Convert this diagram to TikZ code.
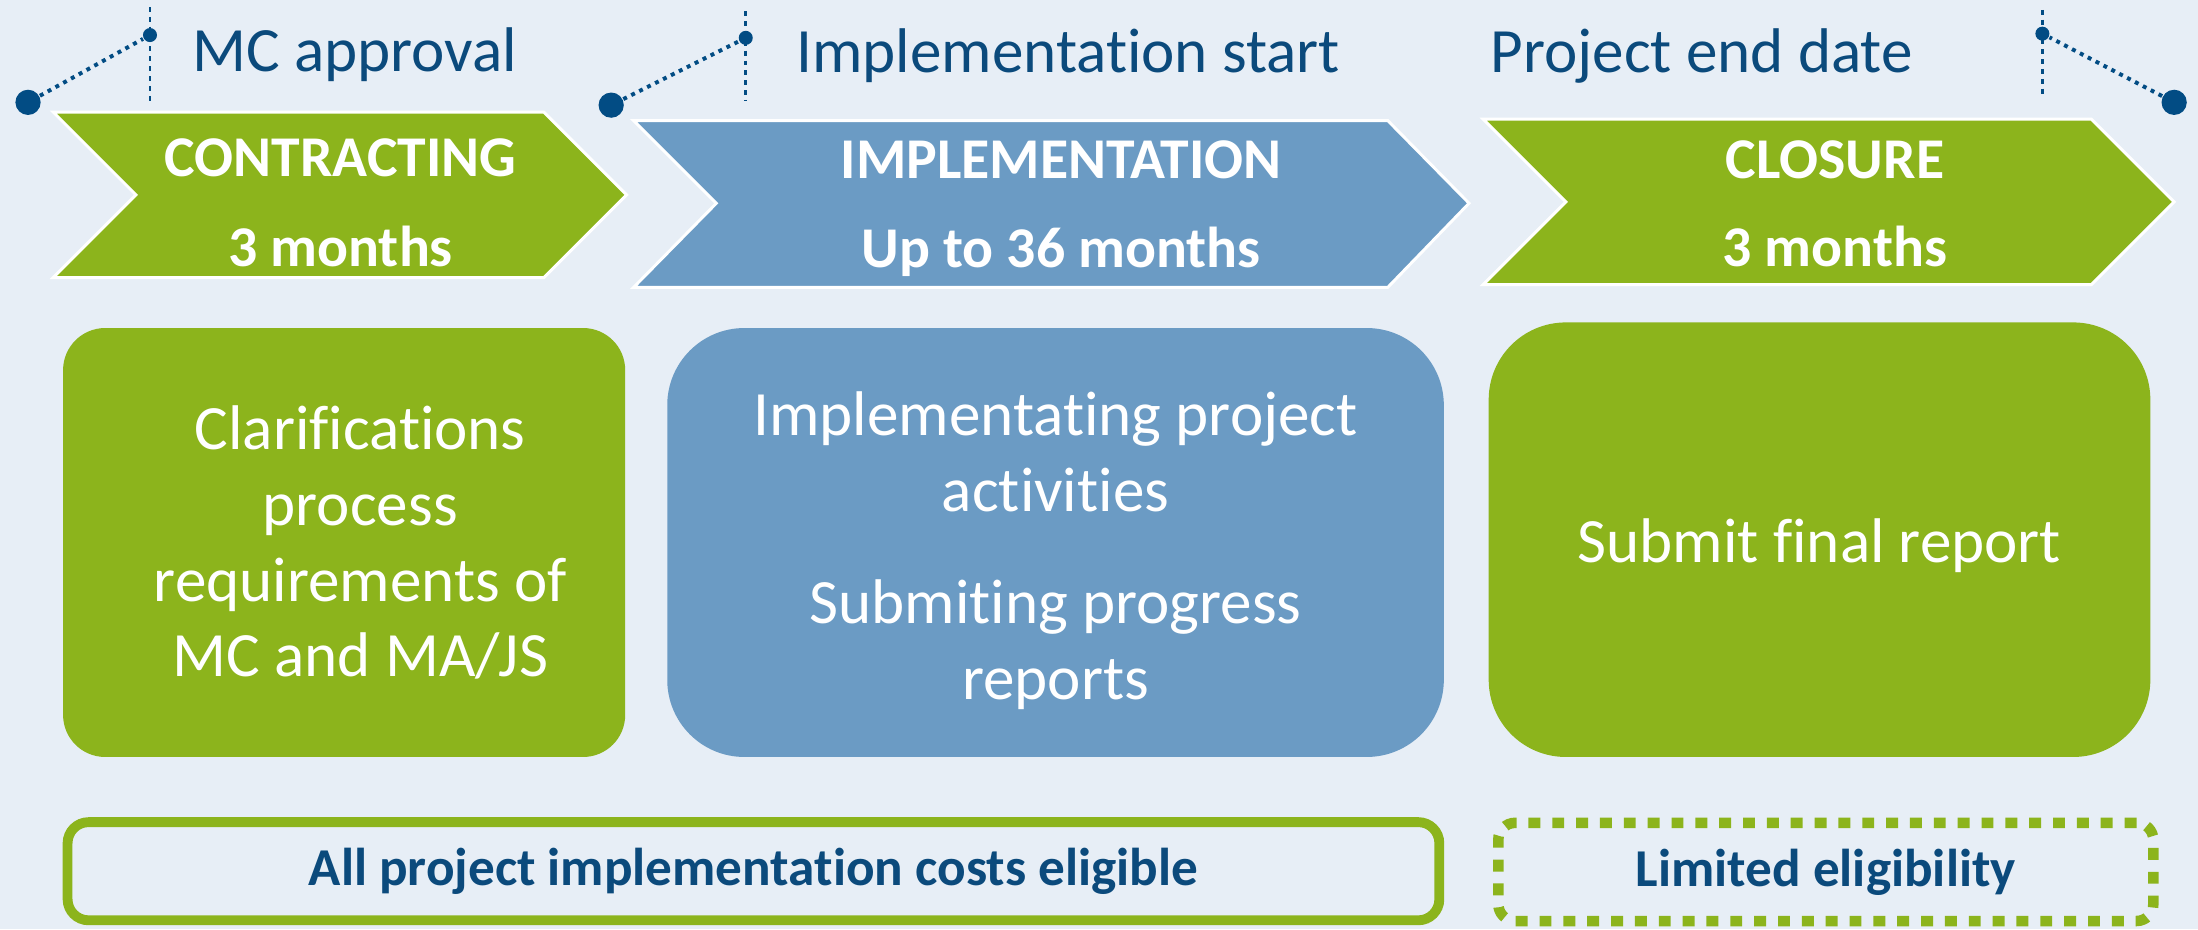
\documentclass[tikz,border=0pt]{standalone}
\usepackage{fontspec}
\setmainfont{Carlito}[Ligatures=NoCommon]
\usetikzlibrary{positioning}
\definecolor{bgblue}{HTML}{E7EEF6}
\definecolor{phgreen}{HTML}{8CB41C}
\definecolor{phblue}{HTML}{6B9BC4}
\definecolor{navy}{HTML}{0B4A7C}
\definecolor{dotblue}{HTML}{024C84}

\begin{document}
\begin{tikzpicture}[x=0.01cm, y=-0.01cm,
    bigdot/.style={circle, fill=dotblue, inner sep=0pt, minimum size=0.18cm},
    smalldot/.style={circle, fill=dotblue, inner sep=0pt, minimum size=0.1cm},
    leader/.style={dotblue, densely dotted, line width=0.8pt},
    pole/.style={dotblue, dash pattern=on 1pt off 1pt, line width=0.6pt},
    milestone/.style={anchor=base, text=navy, font=\fontsize{12.8}{15.4}\selectfont},
    phase/.style={anchor=base, text=white, font=\bfseries\fontsize{11.7}{14}\selectfont},
    chevron/.style={draw=white, line width=0.6pt},
    task/.style={align=center, text=white, font=\fontsize{12.8}{15.4}\selectfont},
    costs/.style={text=navy, inner sep=0pt, font=\bfseries\fontsize{10.8}{13}\selectfont}]
    % background
    \fill[bgblue] (0,0) rectangle (1568,663);
    \useasboundingbox (0,0) rectangle (1568,663);

    % milestones
    \node[milestone] (mcappr) at (253,51) {MC approval};
    \node[milestone] (implstart) at (762,52) {Implementation start};
    \node[milestone] (projend) at (1214,52) {Project end date};

    \node[bigdot] (mcbig) at (20,73) {};
    \node[smalldot] (mcsmall) at (107,25) {};
    \coordinate (mctop) at (107,5);
    \coordinate (mcbot) at (107,72);
    \draw[leader] (mcbig) -- (mcsmall);
    \draw[pole] (mctop) -- (mcbot);

    \node[bigdot] (isbig) at (436,75) {};
    \node[smalldot] (issmall) at (532,27) {};
    \coordinate (istop) at (532,8);
    \coordinate (isbot) at (532,72);
    \draw[leader] (isbig) -- (issmall);
    \draw[pole] (istop) -- (isbot);

    \node[bigdot] (pebig) at (1551,73) {};
    \node[smalldot] (pesmall) at (1457,24) {};
    \coordinate (petop) at (1457,7);
    \coordinate (pebot) at (1457,70);
    \draw[leader] (pebig) -- (pesmall);
    \draw[pole] (petop) -- (pebot);

    % phases
    \fill[phgreen, chevron] (38,80) -- (388,80) -- (447,139) -- (388,198) -- (38,198) -- (97,139) -- cycle;
    \fill[phblue, chevron] (452,86) -- (990,86) -- (1048,145) -- (990,205) -- (452,205) -- (511,145) -- cycle;
    \fill[phgreen, chevron] (1058,85) -- (1492,85) -- (1551,144) -- (1492,203) -- (1058,203) -- (1117,144) -- cycle;

    \node[phase] (contr) at (243,126) {CONTRACTING};
    \node[phase] (contrdur) at (243,190) {3 months};
    \node[phase] (impl) at (757,127) {IMPLEMENTATION};
    \node[phase] (impldur) at (757,191) {Up to 36 months};
    \node[phase] (clos) at (1309,127) {CLOSURE};
    \node[phase] (closdur) at (1309,190) {3 months};

    % tasks
    \fill[phgreen, rounded corners=0.3cm] (45,234) rectangle (446,540);
    \fill[phblue, rounded corners=0.55cm] (476,234) rectangle (1030,540);
    \fill[phgreen, rounded corners=0.55cm] (1062,230) rectangle (1534,540);

    \node[task] (contrtask) at (257,387) {Clarifications\\process\\requirements of\\MC and MA/JS};
    \node[task] (impltask) at (753,393) {Implementating project\\activities\\[0.26cm]Submiting progress\\reports};
    \node[task] (clostask) at (1298,389) {Submit final report};

    % eligibility
    \node[costs, draw=phgreen, line width=0.07cm, rounded corners=0.15cm,
        minimum width=9.78cm, minimum height=0.70cm] (allcosts) at (537.5,621.5)
        {All project implementation costs eligible};
    \node[costs, draw=phgreen, line width=0.075cm, rounded corners=0.12cm,
        dash pattern=on 0.085cm off 0.085cm,
        minimum width=4.67cm, minimum height=0.70cm] (limited) at (1302.5,622)
        {Limited eligibility};
\end{tikzpicture}
\end{document}
